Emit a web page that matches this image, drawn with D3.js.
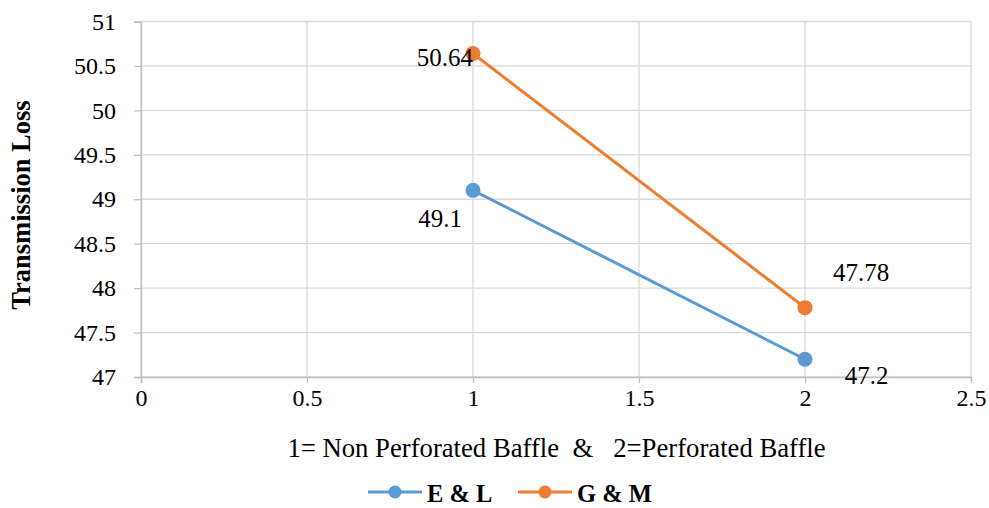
<!DOCTYPE html>
<html><head><meta charset="utf-8">
<script src="https://cdn.jsdelivr.net/npm/d3@7"></script>
<style>body{margin:0;background:#fff} text{font-family:'Liberation Serif','Times New Roman',serif;fill:#000}</style>
</head><body>
<svg id="c" width="989" height="508"></svg>
<script>
const xValues = [1, 2];
const seriesNames = ["E & L", "G & M"];
const seriesEL = [49.1, 47.2];
const seriesGM = [50.64, 47.78];
const xTicks = [0, 0.5, 1, 1.5, 2, 2.5];
const yTicks = [47, 47.5, 48, 48.5, 49, 49.5, 50, 50.5, 51];
const colors = ["#5b9bd5", "#ed7d31"];

const svg = d3.select("#c");
const x = d3.scaleLinear().domain([0, 2.5]).range([141, 971]);
const y = d3.scaleLinear().domain([47, 51]).range([377, 21.5]);

// gridlines
svg.append("g").selectAll("line").data(yTicks).join("line")
  .attr("x1", x(0)).attr("x2", x(2.5)).attr("y1", d => y(d)).attr("y2", d => y(d))
  .attr("stroke", "#d9d9d9").attr("stroke-width", 1.3);
svg.append("g").selectAll("line").data(xTicks).join("line")
  .attr("x1", d => x(d)).attr("x2", d => x(d)).attr("y1", y(47)).attr("y2", y(51))
  .attr("stroke", "#d9d9d9").attr("stroke-width", 1.3);

// axes
const yAxis = d3.axisLeft(y).tickValues(yTicks).tickSize(7).tickPadding(18).tickFormat(d3.format("~g"));
const gy = svg.append("g").attr("transform", `translate(${x(0)},0)`).call(yAxis);
const xAxis = d3.axisBottom(x).tickValues(xTicks).tickSize(6).tickPadding(6).tickFormat(d3.format("~g"));
const gx = svg.append("g").attr("transform", `translate(0,${y(47)})`).call(xAxis);
[gx, gy].forEach(g => {
  g.attr("font-family", null).attr("font-size", null);
  g.select(".domain").attr("stroke", "#bfbfbf").attr("stroke-width", 1.3);
  g.selectAll(".tick line").attr("stroke", "#bfbfbf").attr("stroke-width", 1.3);
  g.selectAll("text").style("font-size", "24px").attr("fill", "#000");
});

// lines
const line = d3.line().x((d, i) => x(xValues[i])).y(d => y(d));
const all = [seriesEL, seriesGM];
all.forEach((s, k) => {
  svg.append("path").datum(s).attr("d", line).attr("fill", "none")
    .attr("stroke", colors[k]).attr("stroke-width", 3);
  svg.append("g").selectAll("circle").data(s).join("circle")
    .attr("cx", (d, i) => x(xValues[i])).attr("cy", d => y(d)).attr("r", 7.5)
    .attr("fill", colors[k]);
});

// data labels
const labels = [
  {v: seriesGM[0], xi: xValues[0], dx: 0, dy: 12.5, anchor: "end"},
  {v: seriesEL[0], xi: xValues[0], dx: -33, dy: 36.5, anchor: "middle"},
  {v: seriesGM[1], xi: xValues[1], dx: 56, dy: -27, anchor: "middle"},
  {v: seriesEL[1], xi: xValues[1], dx: 61.5, dy: 25, anchor: "middle"}
];
svg.append("g").selectAll("text").data(labels).join("text")
  .attr("x", d => x(d.xi) + d.dx).attr("y", d => y(d.v) + d.dy)
  .attr("text-anchor", d => d.anchor)
  .style("font-size", "25px")
  .text(d => d3.format("~g")(d.v));

// axis titles
svg.append("text").attr("transform", "translate(30,205) rotate(-90)")
  .attr("text-anchor", "middle").style("font-size", "26.5px")
  .attr("font-weight", "bold").text("Transmission Loss");
svg.append("text").attr("x", 556.5).attr("y", 457).attr("text-anchor", "middle")
  .style("font-size", "26.7px").style("white-space", "pre")
  .text("1= Non Perforated Baffle  &   2=Perforated Baffle");

// legend
const legX = [368, 518];
seriesNames.forEach((n, k) => {
  const g = svg.append("g").attr("transform", `translate(${legX[k]},492)`);
  g.append("line").attr("x1", 0).attr("x2", 54).attr("y1", 0).attr("y2", 0)
    .attr("stroke", colors[k]).attr("stroke-width", 3);
  g.append("circle").attr("cx", 27).attr("cy", 0).attr("r", 6.5).attr("fill", colors[k]);
  g.append("text").attr("x", 59).attr("y", 10)
    .style("font-size", "24.5px").attr("font-weight", "bold").text(n);
});
</script>
</body></html>
